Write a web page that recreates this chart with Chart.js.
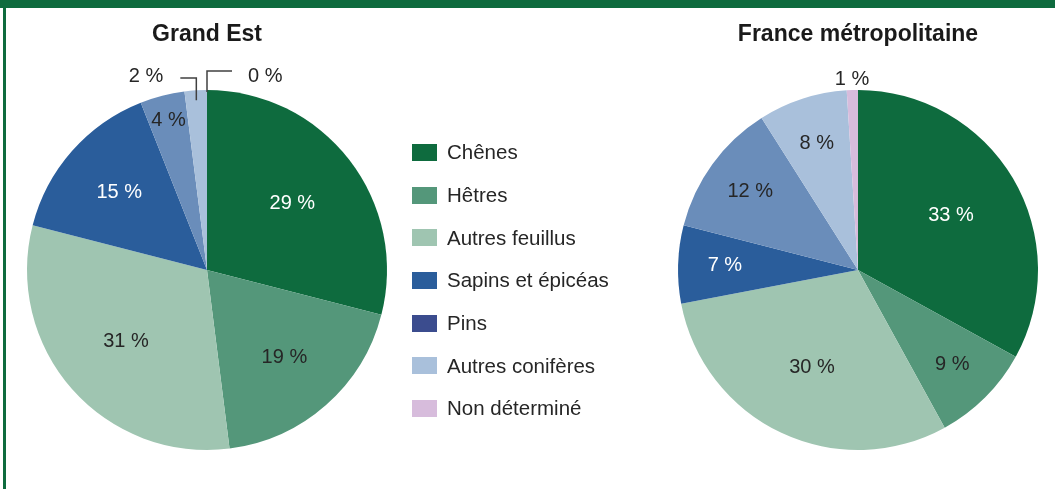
<!DOCTYPE html>
<html lang="fr">
<head>
<meta charset="utf-8">
<title>Essences - Grand Est / France métropolitaine</title>
<script src="https://cdn.jsdelivr.net/npm/chart.js@4.4.1/dist/chart.umd.min.js"></script>
<style>
  html, body { margin: 0; padding: 0; background: #ffffff; }
  body { width: 1055px; height: 489px; position: relative; overflow: hidden; font-family: "Liberation Sans", Arial, sans-serif; }
  .top_band { position: absolute; left: 0; top: 0; width: 1055px; height: 8px; background: #0e6b3e; }
  .left_band { position: absolute; left: 3px; top: 0; width: 3px; height: 489px; background: #0e6b3e; }
  #chartLeft { position: absolute; left: 0; top: 0; }
  #chartRight { position: absolute; left: 661px; top: 0; }
  .legend { position: absolute; left: 412px; top: 131px; margin: 0; padding: 0; list-style: none; }
  .legend li { height: 42.7px; display: flex; align-items: center; font-size: 20.5px; color: #262626; }
  .legend .swatch { width: 25px; height: 17px; margin-right: 10px; flex: none; }
</style>
</head>
<body>
<div class="top_band"></div>
<div class="left_band"></div>
<canvas id="chartLeft" width="414" height="489"></canvas>
<canvas id="chartRight" width="394" height="489"></canvas>
<ul class="legend"></ul>

<script>
// categories and values (percent)
const categories = ['Chênes', 'Hêtres', 'Autres feuillus', 'Sapins et épicéas', 'Pins', 'Autres conifères', 'Non déterminé'];
const grandEstValues = [29, 19, 31, 15, 4, 2, 0];
const franceValues = [33, 9, 30, 7, 12, 8, 1];
const chartTitles = ['Grand Est', 'France métropolitaine'];

// slice colours, and the legend swatches (Pins is darker in the legend)
const sliceColors = ['#0e6b3e', '#54977a', '#9fc5b1', '#2a5d9b', '#6a8dba', '#a9c0db', '#d7bcdc'];
const legendColors = ['#0e6b3e', '#54977a', '#9fc5b1', '#2a5d9b', '#3b4c8e', '#a9c0db', '#d7bcdc'];

const textDark = '#262626';
const labelFont = '20px "Liberation Sans", Arial, sans-serif';

// white text on the dark slices
function isDark(hex) {
  const r = parseInt(hex.slice(1, 3), 16) / 255;
  const g = parseInt(hex.slice(3, 5), 16) / 255;
  const b = parseInt(hex.slice(5, 7), 16) / 255;
  return (0.2126 * r + 0.7152 * g + 0.0722 * b) < 0.42;
}

// how far from the centre a label sits, as a share of the radius
function labelRadius(value) {
  if (value >= 25) return 0.6;
  if (value >= 14) return 0.65;
  if (value >= 7) return 0.74;
  return 0.86;
}

// draws the "xx %" labels; tiny slices go outside the pie
const pieLabels = {
  id: 'pieLabels',
  afterDatasetsDraw(chart, args, opts) {
    const ctx = chart.ctx;
    const meta = chart.getDatasetMeta(0);
    const values = chart.data.datasets[0].data;
    const colors = chart.data.datasets[0].backgroundColor;
    const small = [];
    ctx.save();
    ctx.font = labelFont;
    ctx.textBaseline = 'middle';
    meta.data.forEach((arc, i) => {
      const p = arc.getProps(['x', 'y', 'startAngle', 'endAngle', 'outerRadius'], true);
      const mid = (p.startAngle + p.endAngle) / 2;
      const text = values[i] + ' %';
      if (values[i] < 3) {
        small.push({ i, p, mid, text });
        return;
      }
      const r = p.outerRadius * labelRadius(values[i]);
      ctx.fillStyle = isDark(colors[i]) ? '#ffffff' : textDark;
      ctx.textAlign = 'center';
      ctx.fillText(text, p.x + Math.cos(mid) * r, p.y + Math.sin(mid) * r);
    });

    if (opts.leaders) {
      // first small slice leads off to the left, the last one to the right
      ctx.strokeStyle = '#404040';
      ctx.lineWidth = 1.5;
      small.forEach((s, k) => {
        const R = s.p.outerRadius;
        const ar = values[s.i] > 0 ? R - 10 : R - 2;
        const ax = s.p.x + Math.cos(s.mid) * ar;
        const ay = s.p.y + Math.sin(s.mid) * ar;
        const textY = s.p.y - R - 14;
        ctx.fillStyle = textDark;
        ctx.beginPath();
        if (k === 0) {
          const ey = s.p.y - R - 12;
          ctx.moveTo(ax, ay);
          ctx.lineTo(ax, ey);
          ctx.lineTo(ax - 16, ey);
          ctx.stroke();
          ctx.textAlign = 'right';
          ctx.fillText(s.text, ax - 33, textY);
        } else {
          const ey = s.p.y - R - 19;
          ctx.moveTo(ax, ay);
          ctx.lineTo(ax, ey);
          ctx.lineTo(ax + 25, ey);
          ctx.stroke();
          ctx.textAlign = 'left';
          ctx.fillText(s.text, ax + 41, textY);
        }
      });
    } else {
      small.forEach((s) => {
        const R = s.p.outerRadius;
        ctx.fillStyle = textDark;
        ctx.textAlign = 'center';
        ctx.fillText(s.text, s.p.x + Math.cos(s.mid) * (R + 11), s.p.y + Math.sin(s.mid) * (R + 11));
      });
    }
    ctx.restore();
  }
};

function makePie(canvasId, title, values, sidePadding, leaders) {
  const ctx = document.getElementById(canvasId).getContext('2d');
  return new Chart(ctx, {
    type: 'pie',
    data: {
      labels: categories,
      datasets: [{
        data: values,
        backgroundColor: sliceColors,
        borderWidth: 0
      }]
    },
    options: {
      responsive: false,
      animation: false,
      events: [],
      layout: { padding: { left: sidePadding, right: sidePadding, top: 0, bottom: 39 } },
      plugins: {
        legend: { display: false },
        tooltip: { enabled: false },
        title: {
          display: true,
          text: title,
          color: '#1a1a1a',
          font: { family: '"Liberation Sans", Arial, sans-serif', size: 23, weight: 'bold', lineHeight: 1.2 },
          padding: { top: 21, bottom: 41.4 }
        },
        pieLabels: { leaders: leaders }
      }
    },
    plugins: [pieLabels]
  });
}

function buildLegend() {
  const target = document.querySelector('.legend');
  target.innerHTML = '';
  categories.forEach((name, i) => {
    target.innerHTML += `<li><span class="swatch" style="background:${legendColors[i]}"></span>${name}</li>`;
  });
}

makePie('chartLeft', chartTitles[0], grandEstValues, 27, true);
makePie('chartRight', chartTitles[1], franceValues, 17, false);
buildLegend();
</script>
</body>
</html>
